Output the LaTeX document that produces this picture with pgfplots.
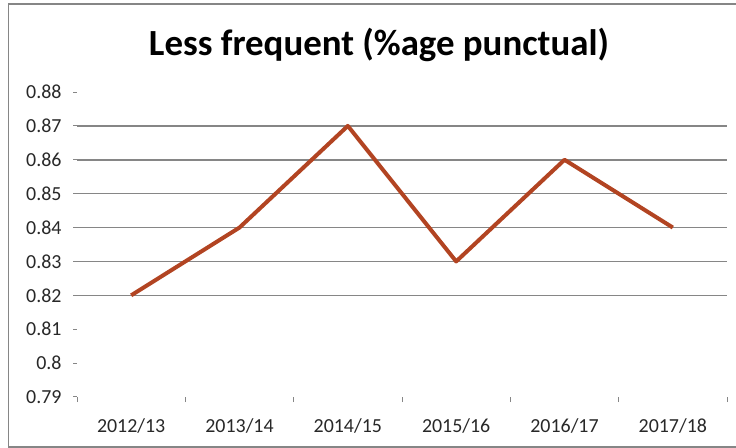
\documentclass[border=0pt]{standalone}
\usepackage{pgfplots}
\pgfplotsset{compat=1.18}
\usepackage{fontspec}
\setmainfont{Carlito}
\definecolor{linec}{RGB}{178,68,34}
\definecolor{gridc}{RGB}{134,134,134}
\definecolor{tickc}{RGB}{40,40,40}
\begin{document}
\begin{tikzpicture}
\useasboundingbox (0bp,0bp) rectangle (736bp,448bp);
\draw[gridc, line width=1.5bp] (736bp,444bp) -- (8.5bp,444bp) -- (8.5bp,1bp) -- (736bp,1bp);
\node[font=\fontsize{37}{42}\selectfont\bfseries, text=black] at (379bp,403bp) {Less frequent (\%age punctual)};
\begin{axis}[
  at={(77bp,51bp)}, anchor=south west,
  scale only axis, width=650bp, height=305bp,
  xmin=-0.5, xmax=5.5, ymin=0.79, ymax=0.88,
  axis line style={draw=none},
  xtick pos=bottom, ytick pos=left,
  xtick={0,...,5},
  xticklabels={2012/13,2013/14,2014/15,2015/16,2016/17,2017/18},
  minor xtick={-0.5,0.5,...,5.5},
  ytick={0.79,0.8,...,0.885},
  yticklabels={0.79,0.8,0.81,0.82,0.83,0.84,0.85,0.86,0.87,0.88},
  extra y ticks={0.82,0.83,0.84,0.85,0.86,0.87},
  extra y tick labels={},
  extra y tick style={grid=major, major grid style={gridc, line width=1.5bp}},
  tick align=outside,
  major tick length=4bp, minor tick length=5bp,
  x tick style={draw=none},
  minor x tick style={draw=gridc, line width=1bp},
  y tick style={draw=gridc, line width=1bp},
  xticklabel style={font=\fontsize{20}{22}\selectfont, text=tickc, yshift=-14bp},
  yticklabel style={font=\fontsize{20}{22}\selectfont, text=tickc, xshift=-8bp},
  /pgf/number format/assume math mode=true,
  clip=false,
]
\addplot[linec, line width=4bp, line join=round] coordinates {
  (0,0.82) (1,0.84) (2,0.87) (3,0.83) (4,0.86) (5,0.84)
};
\end{axis}
\end{tikzpicture}
\end{document}
